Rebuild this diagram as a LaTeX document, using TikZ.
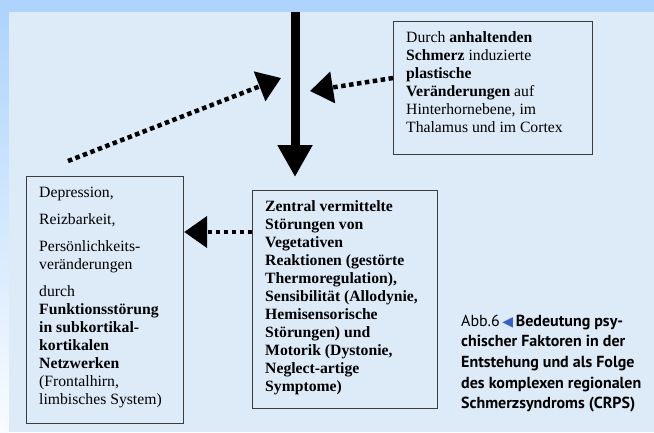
\documentclass[tikz,border=0pt]{standalone}
\usepackage{fontspec}
\setmainfont{Liberation Serif}
\newfontfamily\capfont{PT Sans}
\newfontfamily\symfont{DejaVu Sans}
\usepackage{xcolor}
\definecolor{band-blue}{RGB}{174,212,253}
\definecolor{panel-blue}{RGB}{221,234,248}
\definecolor{tri-blue}{RGB}{58,95,200}
\definecolor{frame-grey}{RGB}{60,60,60}
\usetikzlibrary{arrows.meta,calc}
\tikzstyle{box}=[draw=frame-grey, line width=1.2pt, inner sep=0pt, anchor=north west]
\tikzstyle{txt}=[anchor=north west, inner sep=0pt, align=left, font=\fontsize{15.7}{18}\selectfont]
\tikzstyle{mainarrow}=[line width=9pt, -{Triangle[length=32pt,width=33pt]}]
\tikzstyle{dotarrow}=[line width=4.5pt, dash pattern=on 4.5pt off 3.5pt, -{Triangle[length=23pt,width=31pt]}]
\begin{document}
\begin{tikzpicture}[x=1pt,y=-1pt]
	\useasboundingbox (0,0) rectangle (654,432);
	\fill[band-blue] (0,0) rectangle (654,432);
	\shade[top color=band-blue, bottom color=white!92!band-blue] (0,12) rectangle (9,432);
	\fill[panel-blue] (9,12) rectangle (654,432);
	\node[box, minimum width=199pt, minimum height=133pt] (plast) at (393,21) {};
	\node[txt] (plasttxt) at ($(plast.north west)+(13,10.5)$) {Durch \textbf{anhaltenden}\\ \textbf{Schmerz} induzierte\\ \textbf{plastische}\\ \textbf{Veränderungen} auf\\ Hinterhornebene, im\\ Thalamus und im Cortex};
	\node[box, minimum width=185pt, minimum height=218pt] (zentral) at (252,190) {};
	\node[txt, font=\fontsize{15.7}{18}\selectfont\bfseries] (zentraltxt) at ($(zentral.north west)+(13,10.5)$) {Zentral vermittelte\\ Störungen von\\ Vegetativen\\ Reaktionen (gestörte\\ Thermoregulation),\\ Sensibilität (Allodynie,\\ Hemisensorische\\ Störungen) und\\ Motorik (Dystonie,\\ Neglect-artige\\ Symptome)};
	\node[box, minimum width=157pt, minimum height=247pt] (depr) at (26,175.5) {};
	\node[txt] (deprtxt) at ($(depr.north west)+(13,11.5)$) {Depression,\\[9pt] Reizbarkeit,\\[9pt] Persönlichkeits-\\ veränderungen\\[9pt] durch\\ \textbf{Funktionsstörung}\\ \textbf{in subkortikal-}\\ \textbf{kortikalen}\\ \textbf{Netzwerken}\\ (Frontalhirn,\\ limbisches System)};
	\coordinate (src) at (295,12);
	\coordinate (hub) at (295,177);
	\draw[mainarrow] (src) -- (hub);
	\coordinate (tipR) at (310,91);
	\draw[dotarrow] (plast.west |- 0,78) -- (tipR);
	\coordinate (tail) at (68,161);
	\coordinate (tipL) at (281,78);
	\draw[dotarrow] (tail) -- (tipL);
	\draw[dotarrow] (zentral.west |- 0,232) -- (depr.east |- 0,232);
	\node[anchor=north west, inner sep=0pt, align=left, font=\capfont\fontsize{16}{20.7}\selectfont] (cap) at (461,314.5) {Abb.6\,{\symfont\fontsize{14}{14}\selectfont\color{tri-blue}◀}\,\textbf{Bedeutung psy-}\\ \textbf{chischer Faktoren in der}\\ \textbf{Entstehung und als Folge}\\ \textbf{des komplexen regionalen}\\ \textbf{Schmerzsyndroms (CRPS)}};
\end{tikzpicture}
\end{document}
